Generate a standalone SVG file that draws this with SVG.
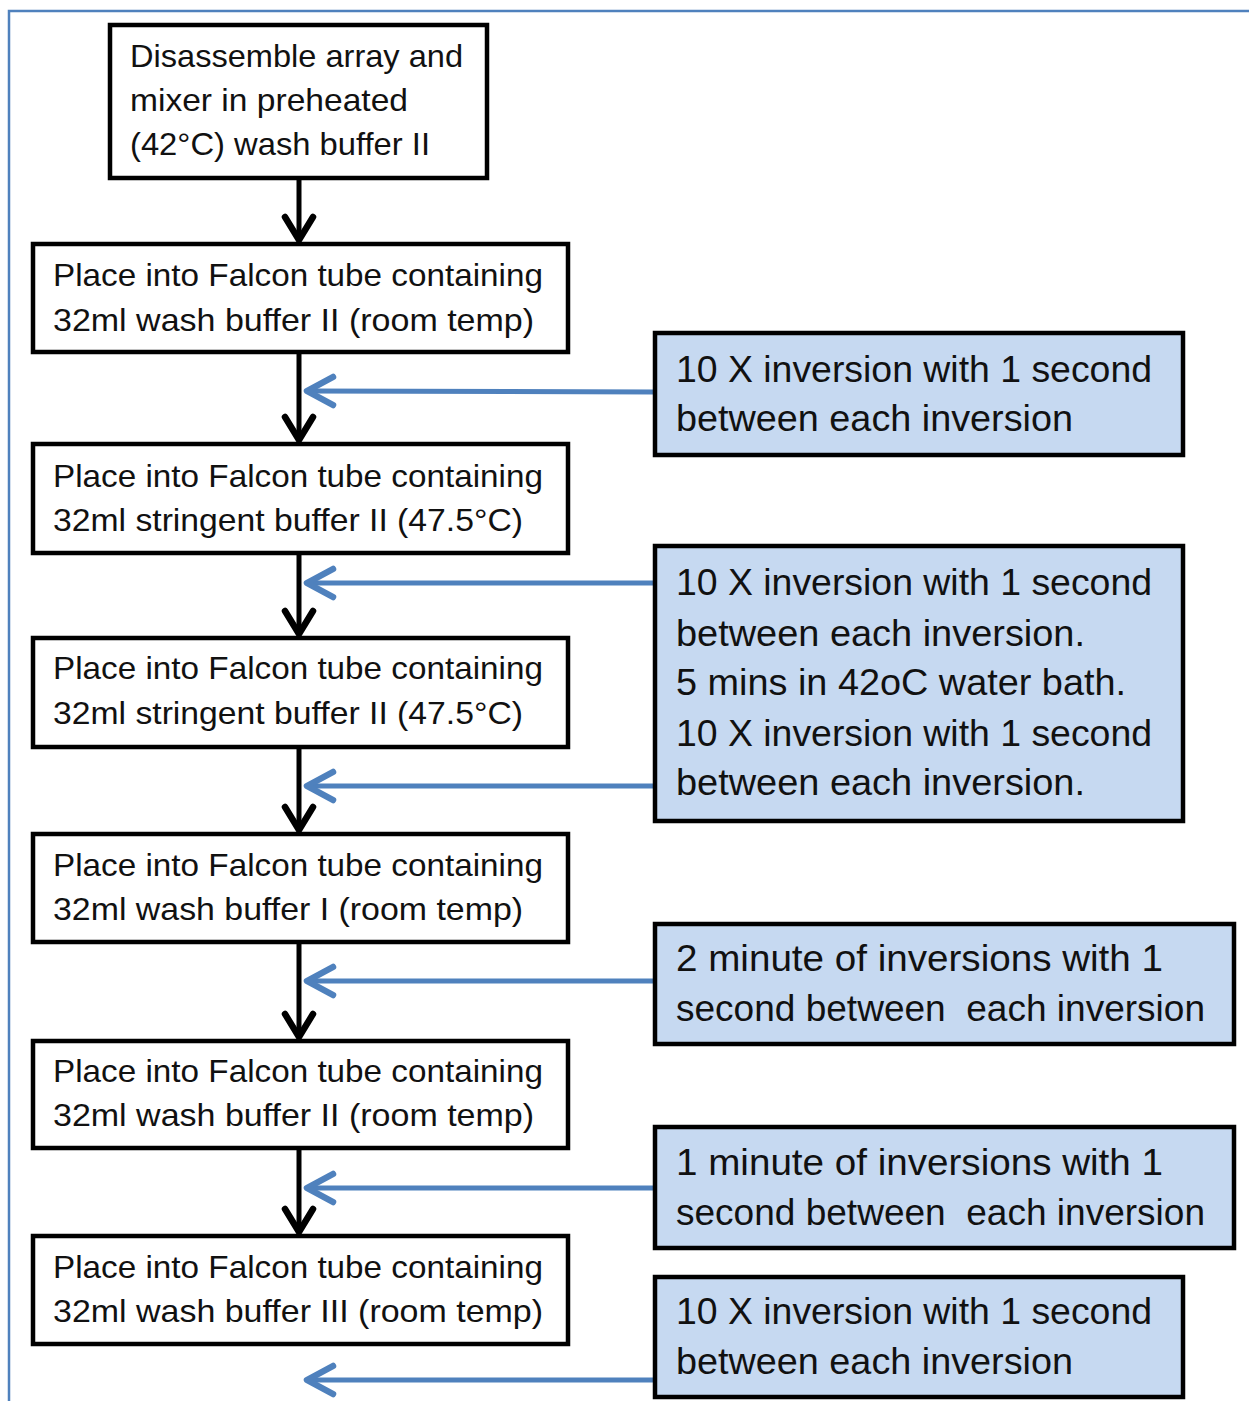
<svg xmlns="http://www.w3.org/2000/svg" width="1249" height="1401" viewBox="0 0 1249 1401">
<style>
.frame{fill:none;stroke:#4f81bd;stroke-width:2.5}
.wbox{fill:#ffffff;stroke:#000000;stroke-width:4.5}
.bbox{fill:#c6d9f1;stroke:#000000;stroke-width:4.5}
.t{font-family:"Liberation Sans",Arial,sans-serif;fill:#111111}
.wt{font-size:32px}
.bt{font-size:36px}
.kline{stroke:#000000;stroke-width:5;fill:none}
.khead{stroke:#000000;stroke-width:6.5;fill:none;stroke-linecap:round;stroke-linejoin:miter}
.bline{stroke:#4f81bd;stroke-width:5;fill:none}
.bhead{stroke:#4f81bd;stroke-width:6.5;fill:none;stroke-linecap:round;stroke-linejoin:round}
</style>
<rect x="0" y="0" width="1249" height="1401" fill="#ffffff"/>
<path class="frame" d="M9,1401 V11 H1249"/>

<g id="connectors">
  <line class="kline" x1="299" y1="178" x2="299" y2="240"/>
  <polyline class="khead" points="285,217 299,240 313,217"/>
  <line class="kline" x1="299" y1="352" x2="299" y2="440"/>
  <polyline class="khead" points="285,417 299,440 313,417"/>
  <line class="kline" x1="299" y1="553" x2="299" y2="634"/>
  <polyline class="khead" points="285,611 299,634 313,611"/>
  <line class="kline" x1="299" y1="747" x2="299" y2="830"/>
  <polyline class="khead" points="285,807 299,830 313,807"/>
  <line class="kline" x1="299" y1="942" x2="299" y2="1037"/>
  <polyline class="khead" points="285,1014 299,1037 313,1014"/>
  <line class="kline" x1="299" y1="1148" x2="299" y2="1232"/>
  <polyline class="khead" points="285,1209 299,1232 313,1209"/>

  <line class="bline" x1="655" y1="392" x2="307" y2="391"/>
  <polyline class="bhead" points="333,377 307,391 333,405"/>
  <line class="bline" x1="655" y1="583" x2="307" y2="583"/>
  <polyline class="bhead" points="333,569 307,583 333,597"/>
  <line class="bline" x1="655" y1="786" x2="307" y2="786"/>
  <polyline class="bhead" points="333,772 307,786 333,800"/>
  <line class="bline" x1="655" y1="981" x2="307" y2="981"/>
  <polyline class="bhead" points="333,967 307,981 333,995"/>
  <line class="bline" x1="655" y1="1188" x2="307" y2="1188"/>
  <polyline class="bhead" points="333,1174 307,1188 333,1202"/>
  <line class="bline" x1="655" y1="1380" x2="307" y2="1380"/>
  <polyline class="bhead" points="333,1366 307,1380 333,1394"/>
</g>

<g id="step1">
  <rect class="wbox" x="110" y="25" width="377" height="153"/>
  <text class="t wt" x="130" y="67" textLength="333" lengthAdjust="spacingAndGlyphs">Disassemble array and</text>
  <text class="t wt" x="130" y="111" textLength="278" lengthAdjust="spacingAndGlyphs">mixer in preheated</text>
  <text class="t wt" x="130" y="155" textLength="300" lengthAdjust="spacingAndGlyphs">(42°C) wash buffer II</text>
</g>
<g id="step2">
  <rect class="wbox" x="33" y="244" width="535" height="108"/>
  <text class="t wt" x="53" y="286" textLength="490" lengthAdjust="spacingAndGlyphs">Place into Falcon tube containing</text>
  <text class="t wt" x="53" y="331" textLength="481" lengthAdjust="spacingAndGlyphs">32ml wash buffer II (room temp)</text>
</g>
<g id="step3">
  <rect class="wbox" x="33" y="444" width="535" height="109"/>
  <text class="t wt" x="53" y="487" textLength="490" lengthAdjust="spacingAndGlyphs">Place into Falcon tube containing</text>
  <text class="t wt" x="53" y="531" textLength="470" lengthAdjust="spacingAndGlyphs">32ml stringent buffer II (47.5°C)</text>
</g>
<g id="step4">
  <rect class="wbox" x="33" y="638" width="535" height="109"/>
  <text class="t wt" x="53" y="679" textLength="490" lengthAdjust="spacingAndGlyphs">Place into Falcon tube containing</text>
  <text class="t wt" x="53" y="724" textLength="470" lengthAdjust="spacingAndGlyphs">32ml stringent buffer II (47.5°C)</text>
</g>
<g id="step5">
  <rect class="wbox" x="33" y="834" width="535" height="108"/>
  <text class="t wt" x="53" y="876" textLength="490" lengthAdjust="spacingAndGlyphs">Place into Falcon tube containing</text>
  <text class="t wt" x="53" y="920" textLength="470" lengthAdjust="spacingAndGlyphs">32ml wash buffer I (room temp)</text>
</g>
<g id="step6">
  <rect class="wbox" x="33" y="1041" width="535" height="107"/>
  <text class="t wt" x="53" y="1082" textLength="490" lengthAdjust="spacingAndGlyphs">Place into Falcon tube containing</text>
  <text class="t wt" x="53" y="1126" textLength="481" lengthAdjust="spacingAndGlyphs">32ml wash buffer II (room temp)</text>
</g>
<g id="step7">
  <rect class="wbox" x="33" y="1236" width="535" height="108"/>
  <text class="t wt" x="53" y="1278" textLength="490" lengthAdjust="spacingAndGlyphs">Place into Falcon tube containing</text>
  <text class="t wt" x="53" y="1322" textLength="490" lengthAdjust="spacingAndGlyphs">32ml wash buffer III (room temp)</text>
</g>

<g id="note1">
  <rect class="bbox" x="655" y="333" width="528" height="122"/>
  <text class="t bt" x="676" y="382" textLength="476" lengthAdjust="spacingAndGlyphs">10 X inversion with 1 second</text>
  <text class="t bt" x="676" y="431" textLength="397" lengthAdjust="spacingAndGlyphs">between each inversion</text>
</g>
<g id="note2">
  <rect class="bbox" x="655" y="546" width="528" height="275"/>
  <text class="t bt" x="676" y="595" textLength="476" lengthAdjust="spacingAndGlyphs">10 X inversion with 1 second</text>
  <text class="t bt" x="676" y="646" textLength="409" lengthAdjust="spacingAndGlyphs">between each inversion.</text>
  <text class="t bt" x="676" y="695" textLength="450" lengthAdjust="spacingAndGlyphs">5 mins in 42oC water bath.</text>
  <text class="t bt" x="676" y="746" textLength="476" lengthAdjust="spacingAndGlyphs">10 X inversion with 1 second</text>
  <text class="t bt" x="676" y="795" textLength="409" lengthAdjust="spacingAndGlyphs">between each inversion.</text>
</g>
<g id="note3">
  <rect class="bbox" x="655" y="924" width="579" height="120"/>
  <text class="t bt" x="676" y="971" textLength="487" lengthAdjust="spacingAndGlyphs">2 minute of inversions with 1</text>
  <text class="t bt" x="676" y="1021" textLength="529" lengthAdjust="spacingAndGlyphs" xml:space="preserve">second between  each inversion</text>
</g>
<g id="note4">
  <rect class="bbox" x="655" y="1127" width="579" height="121"/>
  <text class="t bt" x="676" y="1175" textLength="487" lengthAdjust="spacingAndGlyphs">1 minute of inversions with 1</text>
  <text class="t bt" x="676" y="1225" textLength="529" lengthAdjust="spacingAndGlyphs" xml:space="preserve">second between  each inversion</text>
</g>
<g id="note5">
  <rect class="bbox" x="655" y="1277" width="528" height="120"/>
  <text class="t bt" x="676" y="1324" textLength="476" lengthAdjust="spacingAndGlyphs">10 X inversion with 1 second</text>
  <text class="t bt" x="676" y="1374" textLength="397" lengthAdjust="spacingAndGlyphs">between each inversion</text>
</g>
</svg>
